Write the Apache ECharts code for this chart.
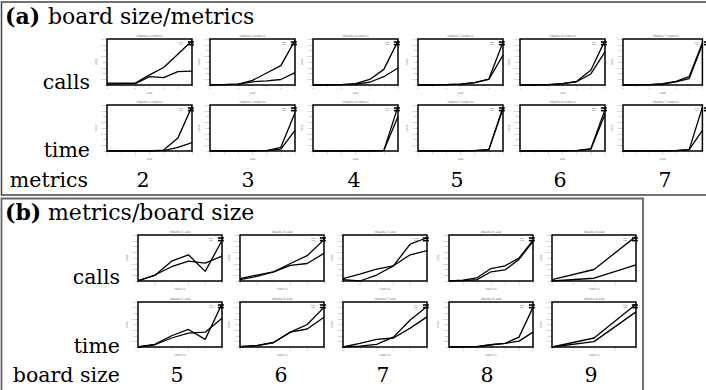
<!DOCTYPE html>
<html>
<head>
<meta charset="utf-8">
<script src="https://cdn.jsdelivr.net/npm/echarts@6/dist/echarts.min.js"></script>
<style>
html,body{margin:0;padding:0;background:#fff;}
#main{width:706px;height:390px;}
</style>
</head>
<body>
<div id="main"></div>
<script>
// ---------- data ----------
const aMetrics = [2, 3, 4, 5, 6, 7];          // panel (a) columns
const aSizes = [3, 4, 5, 6, 7, 8, 9];          // x values in panel (a)
const aCallsUpper = [
  [4, 4, 4, 22, 38, 67, 96],
  [0, 1, 2, 10, 26, 42, 97],
  [0, 0, 1, 3, 12, 34, 96],
  [0, 0, 1, 2, 5, 13, 93],
  [0, 0, 1, 3, 8, 32, 97],
  [0, 0, 1, 3, 8, 18, 92]
];
const aCallsLower = [
  [2, 3, 3, 18, 16, 29, 30],
  [0, 1, 2, 7, 9, 12, 27],
  [0, 0, 1, 2, 6, 18, 37],
  [0, 0, 1, 2, 5, 12, 65],
  [0, 0, 1, 3, 7, 24, 72],
  [0, 0, 1, 2, 7, 14, 88]
];
const aTimeUpper = [
  [0, 0, 0, 0, 2, 28, 97],
  [0, 0, 0, 0, 1, 8, 83],
  [0, 0, 0, 0, 0, 1, 97],
  [0, 0, 0, 0, 1, 3, 95],
  [0, 0, 0, 0, 1, 5, 90],
  [0, 0, 0, 0, 1, 3, 95]
];
const aTimeLower = [
  [0, 0, 0, 0, 1, 8, 18],
  [0, 0, 0, 0, 1, 4, 45],
  [0, 0, 0, 0, 0, 1, 75],
  [0, 0, 0, 0, 1, 3, 92],
  [0, 0, 0, 0, 1, 4, 80],
  [0, 0, 0, 0, 1, 3, 45]
];

const bSizes = [5, 6, 7, 8, 9];                // panel (b) columns
const bMetricsX = [
  [2, 3, 4, 5, 6, 7],
  [2, 3, 4, 5, 6, 7],
  [2, 3, 4, 5, 6, 7],
  [2, 3, 4, 5, 6, 7, 8],
  [2, 4, 6]
];
const bCallsUpper = [
  [1, 12, 43, 57, 21, 88],
  [3, 10, 20, 38, 55, 90],
  [3, 0, 13, 33, 80, 94],
  [0, 2, 7, 27, 33, 50, 88],
  [3, 25, 97]
];
const bCallsLower = [
  [0, 13, 31, 43, 39, 54],
  [5, 13, 20, 34, 38, 60],
  [5, 15, 26, 33, 57, 66],
  [0, 1, 3, 20, 24, 47, 86],
  [0, 6, 35]
];
const bTimeUpper = [
  [0, 6, 25, 39, 17, 96],
  [1, 3, 10, 33, 50, 88],
  [0, 2, 6, 22, 60, 90],
  [0, 0, 1, 5, 8, 22, 88],
  [0, 20, 95]
];
const bTimeLower = [
  [0, 5, 20, 31, 33, 64],
  [1, 3, 10, 33, 40, 66],
  [0, 8, 17, 20, 42, 67],
  [0, 0, 1, 5, 8, 13, 33],
  [0, 12, 78]
];
const seriesNames = ['seq', 'par'];

// ---------- build ----------
const FONT_N = '20.5px "DejaVu Serif", serif';
const FONT_TN = '22px "DejaVu Serif", serif';
const FONT_TB = 'bold 22px "DejaVu Serif", serif';
const grids = [], xAxes = [], yAxes = [], series = [], legends = [], graphics = [];

function addChart(left, top, w, h, xs, hi, lo, title, yName, xName) {
  const gi = grids.length;
  grids.push({left: left, top: top, width: w, height: h, show: true,
    borderColor: '#000', borderWidth: 1.5, backgroundColor: '#fff'});
  xAxes.push({gridIndex: gi, type: 'value', min: xs[0], max: xs[xs.length - 1], interval: 1,
    name: xName, nameLocation: 'middle', nameGap: 6,
    nameTextStyle: {fontSize: 3, color: '#777', fontFamily: 'DejaVu Sans'},
    axisLine: {show: false}, axisTick: {show: true, length: 1.5, lineStyle: {color: '#333', width: 0.5}},
    axisLabel: {fontSize: 2.2, color: '#999', margin: 2}, splitLine: {show: false}});
  yAxes.push({gridIndex: gi, type: 'value', min: 0, max: 100, interval: 12.5,
    name: yName, nameLocation: 'middle', nameGap: 9,
    nameTextStyle: {fontSize: 3, color: '#777', fontFamily: 'DejaVu Sans'},
    axisLine: {show: false}, axisTick: {show: true, length: 1.5, lineStyle: {color: '#333', width: 0.5}},
    axisLabel: {fontSize: 2.2, color: '#999', margin: 2}, splitLine: {show: false}});
  [hi, lo].forEach((arr, k) => {
    series.push({type: 'line', name: seriesNames[k], xAxisIndex: gi, yAxisIndex: gi,
      data: xs.map((x, i) => [x, arr[i]]), showSymbol: false, symbol: 'none',
      lineStyle: {color: '#000', width: 1.3}, itemStyle: {color: '#000'}, animation: false});
  });
  legends.push({left: left + w - 13, top: top + 2, orient: 'vertical', padding: 0,
    itemWidth: 6, itemHeight: 1.6, itemGap: 0.6, align: 'right', icon: 'rect',
    textStyle: {fontSize: 2.4, color: '#555'}, data: seriesNames, selectedMode: false});
  graphics.push({type: 'text', x: left + w / 2, y: top - 3,
    style: {text: title, font: '3px "DejaVu Sans"', fill: '#666', align: 'center', verticalAlign: 'middle'}});
}

// panel (a)
const aLeft = [107, 210, 313, 418, 520, 623];
aMetrics.forEach((m, c) => {
  addChart(aLeft[c], 39, 85, 46, aSizes, aCallsUpper[c], aCallsLower[c], 'nRanks ' + m + ' metrics', 'calls', 'size');
  addChart(aLeft[c], 105, 85, 46, aSizes, aTimeUpper[c], aTimeLower[c], 'nRanks ' + m + ' metrics', 'time', 'size');
});
// panel (b)
const bLeft = [138, 240, 343, 449, 552];
bSizes.forEach((s, c) => {
  addChart(bLeft[c], 235, 84, 46, bMetricsX[c], bCallsUpper[c], bCallsLower[c], 'nRanks ' + s + ' size', 'calls', 'metrics');
  addChart(bLeft[c], 302, 84, 45, bMetricsX[c], bTimeUpper[c], bTimeLower[c], 'nRanks ' + s + ' size', 'time', 'metrics');
});

// frames
graphics.unshift(
  {type: 'rect', shape: {x: 1.5, y: 2, width: 720, height: 193}, style: {fill: 'none', stroke: '#444', lineWidth: 1.5}, z: -1},
  {type: 'rect', shape: {x: 1.5, y: 198.5, width: 641.5, height: 200}, style: {fill: 'none', stroke: '#666', lineWidth: 1.8}, z: -1}
);

function bigText(t, x, y, align) {
  graphics.push({type: 'text', x: x, y: y,
    style: {text: t, font: FONT_N, fill: '#000', align: align, verticalAlign: 'middle'}});
}
function titleText(letter, rest, x, y) {
  graphics.push({type: 'text', x: x, y: y,
    style: {text: '(' + letter + ')', font: FONT_TB, fill: '#000', align: 'left', verticalAlign: 'middle'}});
  graphics.push({type: 'text', x: x + 43, y: y,
    style: {text: rest, font: FONT_TN, fill: '#000', align: 'left', verticalAlign: 'middle'}});
}
titleText('a', 'board size/metrics', 5, 16);
bigText('calls', 90, 82, 'right');
bigText('time', 90, 150, 'right');
bigText('metrics', 88, 180, 'right');
const aNumX = [143, 248, 354, 457, 560, 665];
aMetrics.forEach((m, c) => bigText(String(m), aNumX[c], 180, 'center'));

titleText('b', 'metrics/board size', 5, 212);
bigText('calls', 120, 277, 'right');
bigText('time', 120, 346, 'right');
bigText('board size', 120, 375, 'right');
const bNumX = [177, 281, 383, 487, 591];
bSizes.forEach((s, c) => bigText(String(s), bNumX[c], 375, 'center'));

const chart = echarts.init(document.getElementById('main'), null, {renderer: 'svg'});
chart.setOption({
  animation: false,
  backgroundColor: '#fff',
  grid: grids, xAxis: xAxes, yAxis: yAxes, series: series, legend: legends,
  graphic: graphics
});
</script>
</body>
</html>
